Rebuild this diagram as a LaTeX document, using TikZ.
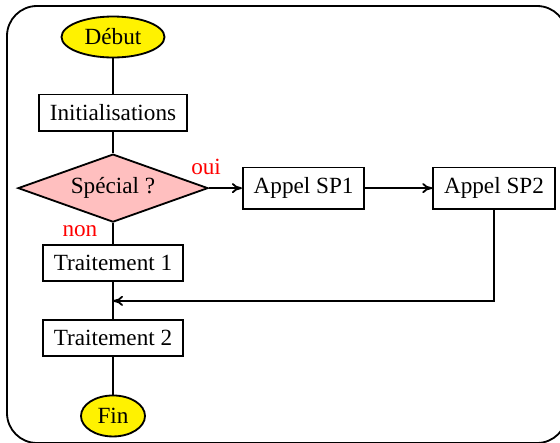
\documentclass[tikz,border=0pt]{standalone}
\usepackage{fontspec}
\setmainfont{Liberation Serif}
\usetikzlibrary{arrows.meta,positioning,shapes.geometric}

\begin{document}
\begin{tikzpicture}[x=1cm,y=1cm,
  every node/.style={font=\fontsize{16.5}{19}\selectfont},
  box/.style={draw,line width=1.3pt,inner xsep=7.7pt,inner ysep=7.2pt},
  term/.style={draw,ellipse,line width=1.3pt,fill=yellow,inner sep=0pt,
    minimum height=1.025cm},
  test/.style={draw,diamond,line width=1.3pt,fill=pink,inner sep=0pt,
    shape aspect=2.8,minimum width=4.75cm,minimum height=1.7cm},
  lbl/.style={text=red,inner sep=1pt},
  arr/.style={-{To[length=2.5mm,width=2.5mm]},line width=1.3pt},
  lin/.style={line width=1.3pt}
]
  \useasboundingbox (0,0) rectangle (14,-11.05);
  \draw[lin,rounded corners=0.75cm] (0.175,-0.15) rectangle (14.175,-11.075);

  \node[term,minimum width=2.575cm] (debut) at (2.825,-0.925) {Début};
  \node[box,below=0.88cm of debut] (init) {Initialisations};
  \node[test,below=0.53cm of init] (spec) {Spécial ?};
  \node[box,right=0.825cm of spec] (sp1) {Appel SP1};
  \node[box,right=1.675cm of sp1] (sp2) {Appel SP2};
  \node[box,below=0.53cm of spec] (t1) {Traitement 1};
  \coordinate[below=0.475cm of t1] (merge);
  \node[box,below=0.925cm of t1] (t2) {Traitement 2};
  \node[term,minimum width=1.6cm,below=0.95cm of t2] (fin) {Fin};

  \node[lbl,above=0.3cm of spec.east,xshift=-2pt] {oui};
  \node[lbl,left=0.35cm of spec.south,yshift=-0.2cm] {non};

  \draw[lin] (debut) -- (init);
  \draw[lin] (init) -- (spec);
  \draw[arr] (spec) -- (sp1);
  \draw[arr] (sp1) -- (sp2);
  \draw[lin] (spec) -- (t1);
  \draw[lin] (t1) -- (t2);
  \draw[arr] (sp2.south) |- (merge);
  \draw[lin] (t2) -- (fin);
\end{tikzpicture}
\end{document}
